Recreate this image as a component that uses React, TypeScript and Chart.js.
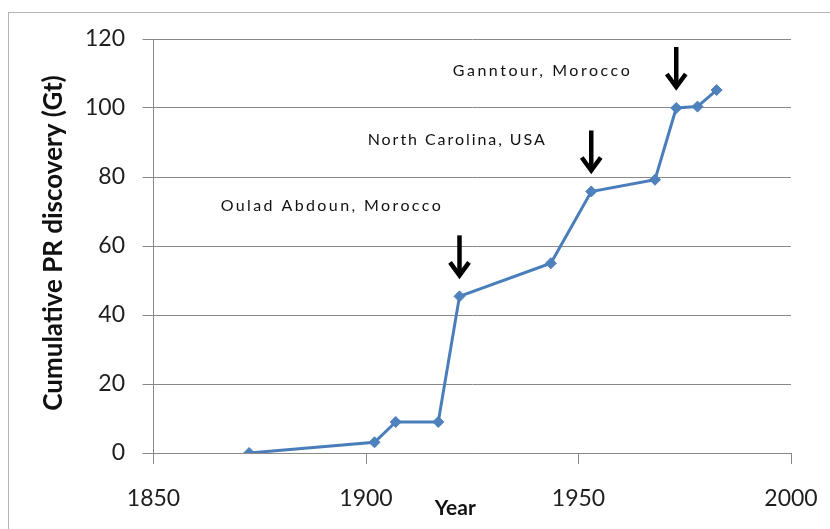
import React, { useEffect, useRef } from 'react';
import { Chart, registerables } from 'chart.js';

Chart.register(...registerables);

// ---- data ----
const years = [1872.5, 1902, 1907, 1917, 1922, 1943.5, 1953, 1968, 1973, 1978, 1982.5];
const cumulativeGt = [0, 3.1, 9, 9, 45.4, 55, 75.8, 79.2, 100, 100.4, 105.2];
const xTickValues = [1850, 1900, 1950, 2000];
const yTickValues = [0, 20, 40, 60, 80, 100, 120];
const discoveryNames = ['Oulad Abdoun, Morocco', 'North Carolina, USA', 'Ganntour, Morocco'];
const discoveryYears = [1922, 1953, 1973];
const xTitle = 'Year';
const yTitle = 'Cumulative PR discovery (Gt)';
// label anchor (left edge, vertical centre) in data units
const labelYears = [1865.8, 1900.4, 1920.4];
const labelValues = [71.6, 90.7, 110.7];
const labelWidths = [220, 177, 177];

const annotatePlugin = {
  id: 'annotate',
  beforeDraw(chart: any) {
    const ctx = chart.ctx;
    ctx.save();
    ctx.strokeStyle = '#b4b4b4';
    ctx.lineWidth = 1;
    ctx.strokeRect(8.5, 12.5, 900, 700);
    ctx.restore();
  },
  afterDatasetsDraw(chart: any) {
    const ctx = chart.ctx;
    const xs = chart.scales.x;
    const ys = chart.scales.y;
    const meta = chart.getDatasetMeta(0);
    ctx.save();
    // arrows
    discoveryYears.forEach((yr) => {
      const i = years.indexOf(yr);
      const pt = meta.data[i];
      const px = pt.x;
      const tipY = pt.y - 18;
      const topY = tipY - 43;
      ctx.strokeStyle = '#000';
      ctx.lineWidth = 4.5;
      ctx.lineCap = 'butt';
      ctx.lineJoin = 'miter';
      ctx.beginPath();
      ctx.moveTo(px, topY);
      ctx.lineTo(px, tipY - 3);
      ctx.stroke();
      ctx.beginPath();
      ctx.moveTo(px - 9.5, tipY - 16);
      ctx.lineTo(px, tipY - 3);
      ctx.lineTo(px + 9.5, tipY - 16);
      ctx.stroke();
    });
    // labels
    ctx.fillStyle = '#111';
    ctx.textAlign = 'left';
    ctx.textBaseline = 'middle';
    ctx.font = '16px Lato';
    discoveryNames.forEach((name, k) => {
      const x = xs.getPixelForValue(labelYears[k]);
      const y = ys.getPixelForValue(labelValues[k]);
      (ctx as any).letterSpacing = '0px';
      const w = ctx.measureText(name).width;
      const ls = Math.max(0, (labelWidths[k] - w) / (name.length - 1));
      (ctx as any).letterSpacing = ls.toFixed(2) + 'px';
      ctx.fillText(name, x, y);
    });
    (ctx as any).letterSpacing = '0px';
    // x-axis title
    ctx.font = 'bold 21px Lato';
    ctx.textAlign = 'center';
    ctx.fillStyle = '#111';
    ctx.fillText(xTitle, xs.getPixelForValue(1921), 508);
    // y-axis title
    ctx.translate(54, (ys.top + ys.bottom) / 2 - 3);
    ctx.rotate(-Math.PI / 2);
    ctx.font = 'bold 26px Lato';
    ctx.fillText(yTitle, 0, 0);
    ctx.restore();
  },
};

export default function App() {
  const canvasRef = useRef<HTMLCanvasElement | null>(null);

  useEffect(() => {
    const canvas = canvasRef.current;
    if (!canvas) return;
    const chart = new Chart(canvas, {
      type: 'line',
      data: {
        datasets: [
          {
            data: years.map((yr, i) => ({ x: yr, y: cumulativeGt[i] })),
            borderColor: '#4A7EBB',
            backgroundColor: '#4F81BD',
            borderWidth: 3,
            pointStyle: 'rectRot',
            pointRadius: 5.5,
            pointBorderWidth: 1,
            pointBorderColor: '#4A7EBB',
            pointBackgroundColor: '#4F81BD',
            tension: 0,
          },
        ],
      },
      options: {
        responsive: false,
        animation: false,
        layout: { padding: { left: 0, top: 39, right: 39, bottom: 0 } },
        plugins: {
          legend: { display: false },
          tooltip: { enabled: false },
        },
        scales: {
          x: {
            type: 'linear',
            min: 1850,
            max: 2000,
            afterFit: (s: any) => {
              s.height = 76;
              s.paddingLeft = 0;
              s.paddingRight = 0;
            },
            afterBuildTicks: (s: any) => {
              s.ticks = xTickValues.map((v) => ({ value: v }));
            },
            grid: {
              drawOnChartArea: false,
              drawTicks: true,
              tickLength: 11,
              color: '#888888',
            },
            border: { display: true, color: '#888888' },
            ticks: {
              padding: 21,
              color: '#1e1e1e',
              font: { family: 'Lato', size: 23 },
              maxRotation: 0,
              callback: (v: any) => String(v),
            },
          },
          y: {
            min: 0,
            max: 120,
            afterFit: (s: any) => {
              s.width = 153.5;
              s.paddingTop = 0;
              s.paddingBottom = 0;
            },
            afterBuildTicks: (s: any) => {
              s.ticks = yTickValues.map((v) => ({ value: v }));
            },
            grid: {
              drawTicks: true,
              tickLength: 11,
              color: '#888888',
            },
            border: { display: true, color: '#888888' },
            ticks: {
              padding: 17.5,
              color: '#1e1e1e',
              font: { family: 'Lato', size: 23 },
              callback: (v: any) => String(v),
            },
          },
        },
      },
      plugins: [annotatePlugin],
    });
    return () => chart.destroy();
  }, []);

  return (
    <div style={{ position: 'fixed', left: 0, top: 0, width: 830, height: 529, background: '#fff' }}>
      <canvas ref={canvasRef} width={830} height={529} />
    </div>
  );
}
